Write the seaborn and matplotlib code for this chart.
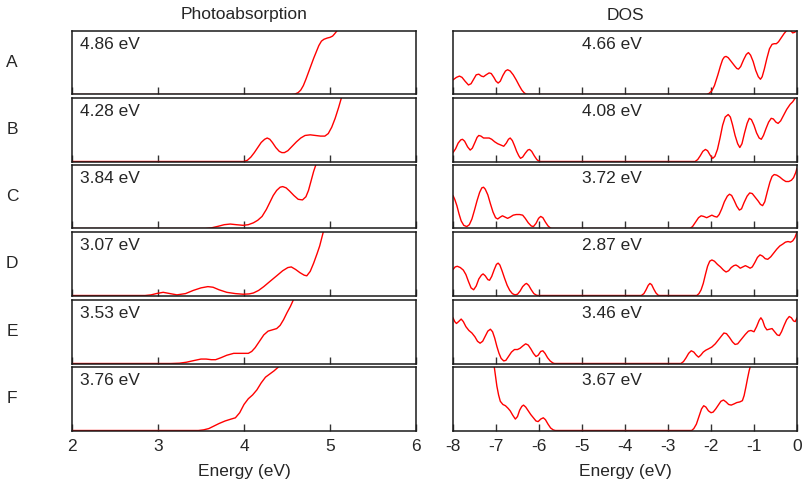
import matplotlib
matplotlib.use("Agg")
import matplotlib.pyplot as plt
import seaborn as sns

# ---------------- data ----------------
rows = ["A", "B", "C", "D", "E", "F"]
pa_labels = ["4.86 eV", "4.28 eV", "3.84 eV", "3.07 eV", "3.53 eV", "3.76 eV"]
dos_labels = ["4.66 eV", "4.08 eV", "3.72 eV", "2.87 eV", "3.46 eV", "3.67 eV"]
pa_ticks = [2, 3, 4, 5, 6]
dos_ticks = [-8, -7, -6, -5, -4, -3, -2, -1, 0]

# Photoabsorption (arbitrary units, fraction of panel height)
pa_A_x = [2.0, 4.55, 4.59, 4.63, 4.66, 4.69, 4.72, 4.75, 4.78, 4.81, 4.84, 4.87, 4.90,
          4.93, 4.97, 5.00, 5.03, 5.05, 5.08, 5.12]
pa_A_y = [0, 0, 0.005, 0.03, 0.07, 0.14, 0.24, 0.35, 0.46, 0.57, 0.67, 0.77, 0.84,
          0.87, 0.89, 0.90, 0.92, 0.95, 1.0, 1.2]

pa_B_x = [2.0, 4.0, 4.04, 4.08, 4.12, 4.16, 4.20, 4.24, 4.27, 4.30, 4.33, 4.37, 4.41,
          4.44, 4.47, 4.51, 4.56, 4.61, 4.66, 4.71, 4.77, 4.83, 4.89, 4.94, 4.98, 5.02,
          5.06, 5.10, 5.13, 5.16]
pa_B_y = [0, 0, 0.02, 0.07, 0.14, 0.22, 0.30, 0.35, 0.37, 0.35, 0.30, 0.22, 0.16,
          0.14, 0.14, 0.17, 0.24, 0.31, 0.37, 0.41, 0.42, 0.41, 0.40, 0.40, 0.44, 0.54,
          0.68, 0.85, 0.99, 1.2]

pa_C_x = [2.0, 3.55, 3.62, 3.70, 3.77, 3.84, 3.91, 3.99, 4.05, 4.11, 4.16, 4.21, 4.26,
          4.30, 4.34, 4.38, 4.42, 4.45, 4.49, 4.53, 4.58, 4.63, 4.68, 4.72, 4.75, 4.78,
          4.81, 4.84, 4.87]
pa_C_y = [0, 0, 0.01, 0.035, 0.06, 0.07, 0.06, 0.05, 0.06, 0.09, 0.13, 0.19, 0.30,
          0.41, 0.52, 0.60, 0.65, 0.66, 0.64, 0.59, 0.52, 0.46, 0.45, 0.50, 0.60, 0.75,
          0.90, 1.02, 1.2]

pa_D_x = [2.0, 2.85, 2.92, 2.98, 3.06, 3.14, 3.22, 3.32, 3.41, 3.50, 3.58, 3.64, 3.71,
          3.80, 3.90, 3.99, 4.06, 4.11, 4.17, 4.23, 4.30, 4.38, 4.45, 4.51, 4.55, 4.60,
          4.65, 4.70, 4.73, 4.77, 4.81, 4.85, 4.88, 4.92, 4.95]
pa_D_y = [0, 0, 0.01, 0.03, 0.05, 0.03, 0.01, 0.03, 0.08, 0.12, 0.14, 0.13, 0.09,
          0.05, 0.03, 0.02, 0.025, 0.04, 0.08, 0.14, 0.22, 0.31, 0.39, 0.44, 0.45, 0.41,
          0.36, 0.32, 0.31, 0.38, 0.51, 0.66, 0.78, 0.99, 1.2]

pa_E_x = [2.0, 3.15, 3.25, 3.33, 3.43, 3.50, 3.56, 3.62, 3.67, 3.73, 3.80, 3.88, 3.97,
          4.05, 4.09, 4.13, 4.18, 4.23, 4.28, 4.33, 4.38, 4.42, 4.46, 4.50, 4.54, 4.58,
          4.61]
pa_E_y = [0, 0, 0.005, 0.02, 0.05, 0.07, 0.07, 0.06, 0.06, 0.09, 0.13, 0.16, 0.16,
          0.16, 0.19, 0.25, 0.35, 0.45, 0.51, 0.53, 0.55, 0.60, 0.69, 0.80, 0.90, 1.02,
          1.15]

pa_F_x = [2.0, 3.47, 3.53, 3.59, 3.65, 3.71, 3.78, 3.85, 3.90, 3.95, 4.00, 4.05, 4.10,
          4.15, 4.20, 4.25, 4.30, 4.35, 4.40, 4.43]
pa_F_y = [0, 0, 0.01, 0.03, 0.07, 0.11, 0.15, 0.18, 0.20, 0.28, 0.41, 0.50, 0.56,
          0.64, 0.75, 0.84, 0.89, 0.94, 1.0, 1.1]

# DOS (arbitrary units, fraction of panel height)
dos_A_x = [-8.0, -7.92, -7.85, -7.79, -7.72, -7.64, -7.58, -7.52, -7.46, -7.40, -7.34,
           -7.29, -7.23, -7.16, -7.11, -7.05, -7.00, -6.95, -6.90, -6.84, -6.78, -6.73,
           -6.67, -6.60, -6.53, -6.46, -6.40, -6.35, -6.30, -6.25, -2.10, -2.04, -1.98,
           -1.92, -1.84, -1.78, -1.73, -1.69, -1.65, -1.60, -1.53, -1.45, -1.40, -1.36,
           -1.31, -1.24, -1.18, -1.13, -1.08, -1.02, -0.96, -0.90, -0.85, -0.81, -0.76,
           -0.70, -0.64, -0.58, -0.53, -0.48, -0.43, -0.37, -0.30, -0.25, -0.20, -0.14,
           -0.10, -0.05, 0.0]
dos_A_y = [0.23, 0.27, 0.29, 0.27, 0.21, 0.15, 0.17, 0.24, 0.31, 0.32, 0.29,
           0.28, 0.31, 0.34, 0.33, 0.27, 0.21, 0.18, 0.21, 0.30, 0.37, 0.39,
           0.37, 0.31, 0.23, 0.14, 0.07, 0.03, 0.005, 0, 0, 0.02, 0.06,
           0.14, 0.31, 0.45, 0.55, 0.59, 0.60, 0.58, 0.52, 0.45, 0.41, 0.40,
           0.44, 0.55, 0.63, 0.66, 0.62, 0.52, 0.38, 0.28, 0.24, 0.28, 0.40,
           0.57, 0.72, 0.79, 0.80, 0.80, 0.83, 0.89, 0.96, 1.0, 1.03, 1.0,
           0.97, 0.98, 1.02]

dos_B_x = [-8.0, -7.94, -7.88, -7.82, -7.78, -7.73, -7.66, -7.60, -7.55, -7.49, -7.44,
           -7.40, -7.35, -7.29, -7.22, -7.16, -7.10, -7.03, -6.96, -6.89, -6.82, -6.76,
           -6.71, -6.67, -6.62, -6.57, -6.52, -6.47, -6.43, -6.38, -6.32, -6.26, -6.22,
           -6.17, -6.11, -6.05, -6.00, -5.96, -2.37, -2.31, -2.25, -2.19, -2.13, -2.08,
           -2.02, -1.96, -1.91, -1.85, -1.79, -1.73, -1.67, -1.60, -1.55, -1.50, -1.44,
           -1.38, -1.33, -1.28, -1.22, -1.16, -1.11, -1.06, -1.00, -0.94, -0.88, -0.83,
           -0.78, -0.72, -0.66, -0.60, -0.55, -0.49, -0.44, -0.38, -0.31, -0.24, -0.16,
           -0.10, -0.04, 0.0]
dos_B_y = [0.14, 0.20, 0.29, 0.34, 0.35, 0.32, 0.23, 0.18, 0.21, 0.30, 0.38,
           0.41, 0.40, 0.37, 0.37, 0.37, 0.35, 0.31, 0.28, 0.26, 0.24, 0.29,
           0.35, 0.37, 0.33, 0.25, 0.16, 0.09, 0.05, 0.07, 0.13, 0.18, 0.19,
           0.16, 0.09, 0.03, 0.005, 0, 0, 0.03, 0.09, 0.16, 0.19, 0.17,
           0.10, 0.05, 0.08, 0.19, 0.37, 0.57, 0.70, 0.74, 0.70, 0.58, 0.41,
           0.28, 0.22, 0.28, 0.45, 0.60, 0.68, 0.66, 0.57, 0.45, 0.37, 0.35,
           0.41, 0.52, 0.62, 0.68, 0.67, 0.62, 0.60, 0.64, 0.73, 0.82, 0.90,
           0.94, 1.0, 1.05]

dos_C_x = [-8.0, -7.96, -7.91, -7.86, -7.81, -7.75, -7.68, -7.62, -7.56, -7.50, -7.44,
           -7.38, -7.33, -7.29, -7.25, -7.19, -7.13, -7.07, -7.01, -6.96, -6.90, -6.85,
           -6.79, -6.73, -6.67, -6.60, -6.53, -6.45, -6.38, -6.32, -6.25, -6.18, -6.13,
           -6.07, -6.01, -5.96, -5.91, -5.85, -5.79, -5.73, -5.70, -2.49, -2.43, -2.36,
           -2.29, -2.23, -2.17, -2.10, -2.04, -1.98, -1.92, -1.86, -1.81, -1.75, -1.69,
           -1.62, -1.57, -1.52, -1.46, -1.40, -1.34, -1.29, -1.23, -1.16, -1.10, -1.04,
           -0.97, -0.90, -0.85, -0.80, -0.75, -0.69, -0.63, -0.58, -0.53, -0.47, -0.40,
           -0.33, -0.26, -0.19, -0.13, -0.08, -0.03, 0.0]
dos_C_y = [0.52, 0.46, 0.36, 0.23, 0.12, 0.05, 0.03, 0.06, 0.15, 0.29, 0.44,
           0.57, 0.64, 0.65, 0.62, 0.53, 0.39, 0.26, 0.17, 0.15, 0.18, 0.20,
           0.18, 0.16, 0.18, 0.21, 0.22, 0.22, 0.21, 0.16, 0.09, 0.04, 0.03,
           0.08, 0.16, 0.19, 0.17, 0.10, 0.04, 0.005, 0, 0, 0.03, 0.10,
           0.17, 0.20, 0.19, 0.17, 0.19, 0.21, 0.19, 0.18, 0.22, 0.31, 0.42,
           0.51, 0.54, 0.52, 0.44, 0.35, 0.29, 0.31, 0.41, 0.51, 0.56, 0.55,
           0.49, 0.43, 0.38, 0.36, 0.42, 0.58, 0.73, 0.82, 0.85, 0.84, 0.81,
           0.77, 0.74, 0.74, 0.76, 0.80, 0.88, 0.95]

dos_D_x = [-8.0, -7.95, -7.90, -7.83, -7.76, -7.70, -7.64, -7.58, -7.52, -7.46, -7.40,
           -7.34, -7.30, -7.25, -7.19, -7.15, -7.10, -7.04, -6.99, -6.95, -6.91, -6.86,
           -6.80, -6.74, -6.68, -6.62, -6.56, -6.50, -6.44, -6.38, -6.32, -6.29, -6.24,
           -6.18, -6.12, -6.06, -6.02, -3.62, -3.56, -3.51, -3.46, -3.42, -3.38, -3.33,
           -3.28, -3.23, -3.20, -2.33, -2.28, -2.23, -2.18, -2.13, -2.08, -2.03, -1.98,
           -1.92, -1.85, -1.78, -1.71, -1.65, -1.59, -1.53, -1.47, -1.42, -1.37, -1.32,
           -1.26, -1.20, -1.14, -1.09, -1.04, -0.98, -0.92, -0.86, -0.80, -0.74, -0.68,
           -0.61, -0.54, -0.47, -0.40, -0.33, -0.27, -0.21, -0.15, -0.10, -0.05, 0.0]
dos_D_y = [0.41, 0.45, 0.46, 0.44, 0.40, 0.33, 0.22, 0.12, 0.09, 0.15, 0.26,
           0.32, 0.34, 0.31, 0.25, 0.24, 0.30, 0.41, 0.49, 0.51, 0.48, 0.39,
           0.27, 0.16, 0.08, 0.03, 0.01, 0.02, 0.07, 0.14, 0.18, 0.19, 0.16,
           0.09, 0.03, 0.005, 0, 0, 0.03, 0.09, 0.16, 0.19, 0.17, 0.10,
           0.04, 0.005, 0, 0, 0.03, 0.09, 0.19, 0.33, 0.46, 0.54, 0.56,
           0.54, 0.49, 0.45, 0.40, 0.37, 0.39, 0.44, 0.47, 0.48, 0.46, 0.43,
           0.45, 0.47, 0.45, 0.43, 0.45, 0.52, 0.60, 0.64, 0.62, 0.58, 0.57,
           0.61, 0.67, 0.73, 0.78, 0.81, 0.84, 0.85, 0.84, 0.86, 0.91, 1.0]

dos_E_x = [-8.0, -7.96, -7.92, -7.87, -7.81, -7.76, -7.70, -7.63, -7.56, -7.49, -7.43,
           -7.37, -7.31, -7.25, -7.19, -7.13, -7.08, -7.03, -6.98, -6.93, -6.88, -6.82,
           -6.77, -6.71, -6.64, -6.57, -6.50, -6.44, -6.37, -6.31, -6.25, -6.19, -6.13,
           -6.07, -6.02, -5.96, -5.91, -5.86, -5.80, -5.74, -5.68, -5.64, -2.70, -2.64,
           -2.58, -2.52, -2.46, -2.40, -2.34, -2.29, -2.24, -2.18, -2.12, -2.06, -1.98,
           -1.90, -1.83, -1.76, -1.70, -1.64, -1.57, -1.50, -1.44, -1.38, -1.32, -1.26,
           -1.20, -1.13, -1.07, -1.00, -0.94, -0.88, -0.84, -0.80, -0.75, -0.70, -0.64,
           -0.58, -0.52, -0.46, -0.41, -0.36, -0.30, -0.24, -0.18, -0.13, -0.08, -0.04,
           0.0]
dos_E_y = [0.72, 0.66, 0.63, 0.66, 0.70, 0.66, 0.58, 0.52, 0.48, 0.42, 0.35,
           0.32, 0.35, 0.43, 0.51, 0.54, 0.50, 0.40, 0.27, 0.16, 0.08, 0.04,
           0.05, 0.11, 0.18, 0.22, 0.22, 0.24, 0.28, 0.31, 0.29, 0.23, 0.16,
           0.11, 0.13, 0.19, 0.20, 0.16, 0.09, 0.04, 0.01, 0, 0, 0.03,
           0.09, 0.16, 0.20, 0.18, 0.13, 0.10, 0.13, 0.18, 0.21, 0.23, 0.26,
           0.31, 0.37, 0.43, 0.48, 0.47, 0.41, 0.34, 0.30, 0.31, 0.36, 0.41,
           0.46, 0.51, 0.52, 0.50, 0.58, 0.68, 0.72, 0.68, 0.58, 0.53, 0.54,
           0.55, 0.50, 0.45, 0.44, 0.50, 0.60, 0.69, 0.74, 0.72, 0.67, 0.66,
           0.72]

dos_F_x = [-7.07, -7.04, -7.01, -6.98, -6.94, -6.90, -6.84, -6.78, -6.72, -6.67, -6.61,
           -6.55, -6.50, -6.45, -6.40, -6.36, -6.31, -6.25, -6.19, -6.13, -6.07, -6.02,
           -5.96, -5.90, -5.85, -5.79, -5.73, -5.67, -5.62, -2.45, -2.40, -2.34, -2.28,
           -2.22, -2.17, -2.12, -2.06, -2.00, -1.95, -1.89, -1.83, -1.77, -1.71, -1.65,
           -1.59, -1.53, -1.46, -1.40, -1.33, -1.27, -1.23, -1.19, -1.15, -1.11, -1.08,
           -1.04]
dos_F_y = [1.3, 1.0, 0.85, 0.70, 0.56, 0.46, 0.41, 0.39, 0.35, 0.31, 0.24,
           0.18, 0.22, 0.32, 0.38, 0.40, 0.37, 0.31, 0.25, 0.20, 0.15, 0.14,
           0.18, 0.20, 0.17, 0.10, 0.04, 0.01, 0, 0, 0.03, 0.10, 0.22,
           0.34, 0.39, 0.37, 0.31, 0.28, 0.29, 0.34, 0.40, 0.46, 0.48, 0.45,
           0.41, 0.40, 0.42, 0.44, 0.45, 0.47, 0.55, 0.68, 0.82, 0.95, 1.02,
           1.3]

pa_series = [(pa_A_x, pa_A_y), (pa_B_x, pa_B_y), (pa_C_x, pa_C_y),
             (pa_D_x, pa_D_y), (pa_E_x, pa_E_y), (pa_F_x, pa_F_y)]
dos_series = [(dos_A_x, dos_A_y), (dos_B_x, dos_B_y), (dos_C_x, dos_C_y),
              (dos_D_x, dos_D_y), (dos_E_x, dos_E_y), (dos_F_x, dos_F_y)]

# ---------------- styling ----------------
sns.set_theme(style="ticks")
plt.rcParams["font.family"] = ["Liberation Sans", "DejaVu Sans"]
plt.rcParams["axes.unicode_minus"] = False
TXT = "#262626"
FS = 12.5

W, H = 802, 490
fig = plt.figure(figsize=(W / 100, H / 100), dpi=100)
row_tops = [31, 98, 165, 232, 300, 367]
ph = 63.5
left_x, right_x, pw = 72, 453, 344


def style_axis(ax, xlim, ticks, last):
    ax.set_xlim(*xlim)
    ax.set_ylim(0, 1)
    ax.set_yticks([])
    ax.set_xticks(ticks)
    ax.set_ylabel("")
    ax.tick_params(axis="x", which="major", direction="in", length=5, width=1.0,
                   color="#333333", bottom=True, top=False, labelbottom=last,
                   labelsize=FS, labelcolor=TXT, pad=6)
    for s in ax.spines.values():
        s.set_visible(True)
        s.set_linewidth(1.1)
        s.set_color("#1a1a1a")
    if last:
        ax.set_xlabel("Energy (eV)", fontsize=FS, color=TXT, labelpad=7)
    else:
        ax.set_xlabel("")


for i, top in enumerate(row_tops):
    bottom = 1 - (top + ph) / H
    last = i == len(row_tops) - 1

    axl = fig.add_axes([left_x / W, bottom, pw / W, ph / H])
    xs, ys = pa_series[i]
    sns.lineplot(x=xs, y=ys, ax=axl, color="#ff0000", linewidth=1.0,
                 estimator=None, sort=False)
    style_axis(axl, (2, 6), pa_ticks, last)
    axl.text(0.023, 0.78, pa_labels[i], transform=axl.transAxes, ha="left",
             va="center", fontsize=FS, color=TXT)

    axr = fig.add_axes([right_x / W, bottom, pw / W, ph / H])
    xs, ys = dos_series[i]
    sns.lineplot(x=xs, y=ys, ax=axr, color="#ff0000", linewidth=1.0,
                 estimator=None, sort=False)
    style_axis(axr, (-8, 0), dos_ticks, last)
    axr.text(0.375, 0.78, dos_labels[i], transform=axr.transAxes, ha="left",
             va="center", fontsize=FS, color=TXT)

    fig.text(12 / W, 1 - (top + ph / 2) / H, rows[i], ha="center", va="center",
             fontsize=FS, color=TXT)

fig.text((left_x + pw / 2) / W, 1 - 15 / H, "Photoabsorption", ha="center",
         va="center", fontsize=FS, color=TXT)
fig.text((right_x + pw / 2) / W, 1 - 15 / H, "DOS", ha="center", va="center",
         fontsize=FS, color=TXT)

fig.savefig("out.png", dpi=100)
